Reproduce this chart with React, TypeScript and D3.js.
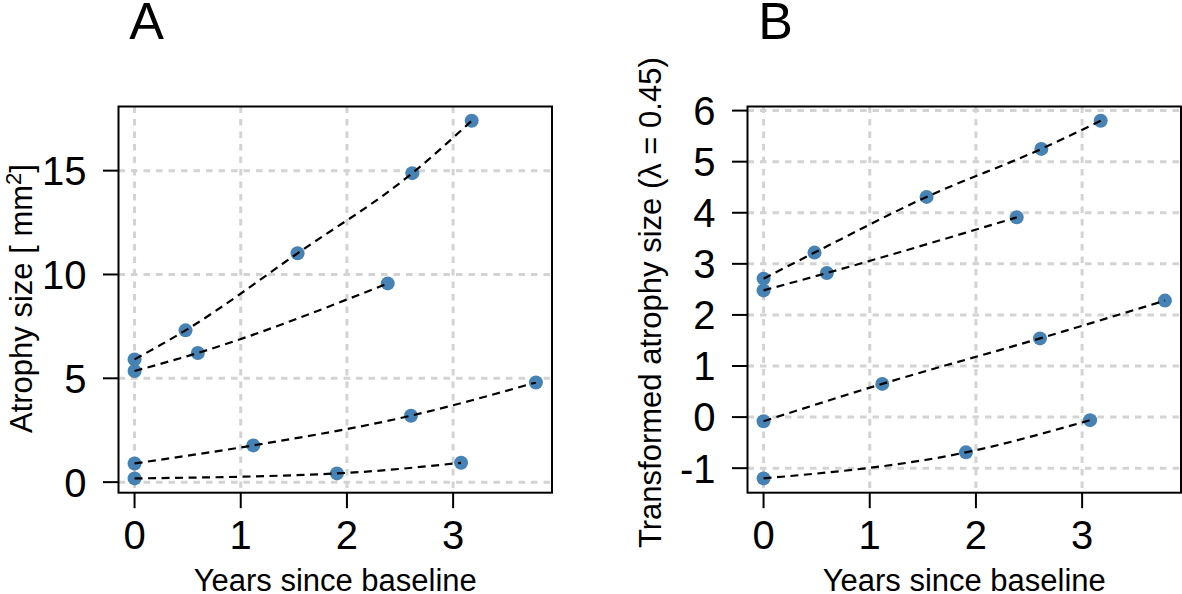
import React from "react";
import * as d3 from "d3";

// ---- data ----
const years1 = [0, 0.48, 1.535, 2.616, 3.175];
const years2 = [0, 0.596, 2.384];
const years3 = [0, 1.118, 2.603, 3.78];
const years4 = [0, 1.906, 3.075];

const sizeA1 = [5.91, 7.31, 11.02, 14.88, 17.4];
const sizeA2 = [5.35, 6.22, 9.57];
const sizeA3 = [0.9, 1.77, 3.2, 4.8];
const sizeA4 = [0.18, 0.42, 0.93];

const sizeB1 = [2.71, 3.22, 4.31, 5.25, 5.8];
const sizeB2 = [2.48, 2.82, 3.91];
const sizeB3 = [-0.08, 0.65, 1.54, 2.28];
const sizeB4 = [-1.2, -0.69, -0.06];

const xTicks = [0, 1, 2, 3];
const yTicksA = [0, 5, 10, 15];
const yTicksB = [-1, 0, 1, 2, 3, 4, 5, 6];

const xLabel = "Years since baseline";

type Pt = [number, number];
const zip = (xs: number[], ys: number[]): Pt[] => xs.map((x, i) => [x, ys[i]]);

const seriesA: Pt[][] = [
  zip(years1, sizeA1),
  zip(years2, sizeA2),
  zip(years3, sizeA3),
  zip(years4, sizeA4),
];
const seriesB: Pt[][] = [
  zip(years1, sizeB1),
  zip(years2, sizeB2),
  zip(years3, sizeB3),
  zip(years4, sizeB4),
];

const W = 1182;
const H = 594;
const TOP = 106.5;
const BOTTOM = 492.7;
const FONT = "'Liberation Sans', Arial, Helvetica, sans-serif";

function padded(vals: number[]): [number, number] {
  const [lo, hi] = d3.extent(vals) as [number, number];
  const p = (hi - lo) * 0.04;
  return [lo - p, hi + p];
}

type PanelProps = {
  left: number;
  right: number;
  series: Pt[][];
  yTicks: number[];
  title: string;
  yLabel: React.ReactNode;
  yLabelStart: number;
};

function Panel({ left, right, series, yTicks, title, yLabel, yLabelStart }: PanelProps) {
  const allX = series.flat().map((d) => d[0]);
  const allY = series.flat().map((d) => d[1]);
  const x = d3.scaleLinear().domain(padded(allX)).range([left, right]);
  const y = d3.scaleLinear().domain(padded(allY)).range([BOTTOM, TOP]);
  const line = d3
    .line<Pt>()
    .x((d) => x(d[0]))
    .y((d) => y(d[1]))
    .curve(d3.curveMonotoneX);

  return (
    <g>
      {/* grid */}
      <g stroke="#d3d3d3" strokeWidth={3} strokeDasharray="6.5 6">
        {xTicks.map((t) => (
          <line key={"gx" + t} x1={x(t)} x2={x(t)} y1={TOP} y2={BOTTOM} />
        ))}
        {yTicks.map((t) => (
          <line key={"gy" + t} x1={left} x2={right} y1={y(t)} y2={y(t)} />
        ))}
      </g>
      {/* points */}
      <g fill="#4682b4">
        {series.flat().map((d, i) => (
          <circle key={"p" + i} cx={x(d[0])} cy={y(d[1])} r={7} />
        ))}
      </g>
      {/* lines */}
      <g fill="none" stroke="#000" strokeWidth={2.2} strokeDasharray="8 5.5">
        {series.map((s, i) => (
          <path key={"l" + i} d={line(s) || ""} />
        ))}
      </g>
      {/* box */}
      <rect
        x={left}
        y={TOP}
        width={right - left}
        height={BOTTOM - TOP}
        fill="none"
        stroke="#000"
        strokeWidth={2}
      />
      {/* x axis */}
      <g>
        {xTicks.map((t) => (
          <g key={"xt" + t}>
            <line x1={x(t)} x2={x(t)} y1={BOTTOM} y2={BOTTOM + 15.5} stroke="#000" strokeWidth={2} />
            <text
              x={x(t)}
              y={549}
              textAnchor="middle"
              fontSize={40}
              fontFamily={FONT}
              fill="#000"
            >
              {t}
            </text>
          </g>
        ))}
      </g>
      {/* y axis */}
      <g>
        {yTicks.map((t) => (
          <g key={"yt" + t}>
            <line x1={left - 15.5} x2={left} y1={y(t)} y2={y(t)} stroke="#000" strokeWidth={2} />
            <text
              x={left - 32}
              y={y(t)}
              dy="0.36em"
              textAnchor="end"
              fontSize={40}
              fontFamily={FONT}
              fill="#000"
            >
              {t}
            </text>
          </g>
        ))}
      </g>
      {/* axis labels */}
      <text
        x={(left + right) / 2}
        y={591}
        textAnchor="middle"
        fontSize={31}
        fontFamily={FONT}
        fill="#000"
      >
        {xLabel}
      </text>
      <text
        transform={`translate(${left - 87},${yLabelStart}) rotate(-90)`}
        textAnchor="start"
        fontSize={31}
        fontFamily={FONT}
        fill="#000"
      >
        {yLabel}
      </text>
      {/* title */}
      <text
        x={left + 28}
        y={39}
        textAnchor="middle"
        fontSize={52}
        fontFamily={FONT}
        fill="#000"
      >
        {title}
      </text>
    </g>
  );
}

export default function App() {
  return (
    <svg
      width={W}
      height={H}
      viewBox={`0 0 ${W} ${H}`}
      style={{ position: "absolute", left: 0, top: 0, background: "#fff" }}
    >
      <rect x={0} y={0} width={W} height={H} fill="#fff" />
      <Panel
        left={118.5}
        right={552}
        series={seriesA}
        yTicks={yTicksA}
        title="A"
        yLabelStart={433}
        yLabel={
          <>
            Atrophy size [ mm
            <tspan dy={-11} fontSize={22}>
              2
            </tspan>
            <tspan dy={11}>]</tspan>
          </>
        }
      />
      <Panel
        left={747.5}
        right={1181}
        series={seriesB}
        yTicks={yTicksB}
        title="B"
        yLabelStart={548}
        yLabel={<>Transformed atrophy size (λ = 0.45)</>}
      />
    </svg>
  );
}
